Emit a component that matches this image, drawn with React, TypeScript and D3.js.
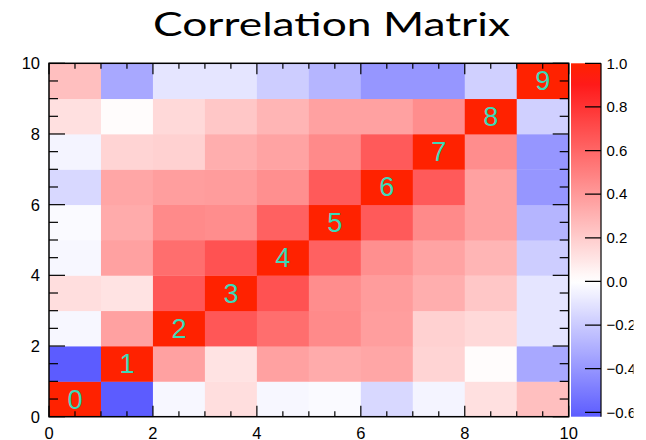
import React from "react";
import * as d3 from "d3";

// Variable indices shown on the diagonal
const variables = ["0", "1", "2", "3", "4", "5", "6", "7", "8", "9"];

// Correlation coefficients, one row per variable (row index = y bin, column = x bin)
const row0 = [1.0, -0.62, -0.03, 0.13, -0.03, -0.02, -0.15, -0.04, 0.12, 0.25];
const row1 = [-0.62, 1.0, 0.37, 0.11, 0.37, 0.33, 0.35, 0.17, 0.01, -0.33];
const row2 = [-0.03, 0.37, 1.0, 0.66, 0.57, 0.46, 0.38, 0.18, 0.15, -0.1];
const row3 = [0.13, 0.11, 0.66, 1.0, 0.68, 0.45, 0.39, 0.32, 0.22, -0.1];
const row4 = [-0.03, 0.37, 0.57, 0.68, 1.0, 0.62, 0.44, 0.36, 0.29, -0.19];
const row5 = [-0.02, 0.33, 0.46, 0.45, 0.62, 1.0, 0.65, 0.46, 0.37, -0.28];
const row6 = [-0.15, 0.35, 0.38, 0.39, 0.44, 0.65, 1.0, 0.65, 0.37, -0.4];
const row7 = [-0.04, 0.17, 0.18, 0.32, 0.36, 0.46, 0.65, 1.0, 0.45, -0.4];
const row8 = [0.12, 0.01, 0.15, 0.22, 0.29, 0.37, 0.37, 0.45, 1.0, -0.18];
const row9 = [0.25, -0.33, -0.1, -0.1, -0.19, -0.28, -0.4, -0.4, -0.18, 1.0];
const correlation = [row0, row1, row2, row3, row4, row5, row6, row7, row8, row9];

// Axis ticks
const axisTicks = d3.range(0, 10.001, 0.5);
const axisLabels = [0, 2, 4, 6, 8, 10];
const zTicks = [-0.6, -0.4, -0.2, 0.0, 0.2, 0.4, 0.6, 0.8, 1.0];

const W = 646;
const H = 440;
const plot = { left: 49, right: 568.7, top: 63.3, bottom: 416.7 };
const bar = { left: 571, right: 601 };
const labelClipRight = 633.5;

const zMin = d3.min(correlation.flat()) as number;
const zMax = 1.0;

const x = d3.scaleLinear().domain([0, 10]).range([plot.left, plot.right]);
const y = d3.scaleLinear().domain([0, 10]).range([plot.bottom, plot.top]);
const z = d3.scaleLinear().domain([zMin, zMax]).range([plot.bottom, plot.top]);

const color = d3
  .scaleLinear<string>()
  .domain([zMin, 0, 0.9, 1.0])
  .range(["#5c5cff", "#ffffff", "#ff1a1a", "#ff2200"])
  .interpolate(d3.interpolateRgb)
  .clamp(true);

const tickFont = "'Liberation Sans', Arial, Helvetica, sans-serif";
const fmt = d3.format(".1f");

export default function App() {
  const cells: React.ReactNode[] = [];
  correlation.forEach((row, j) => {
    row.forEach((v, i) => {
      const x0 = x(i);
      const x1 = x(i + 1);
      const y0 = y(j + 1);
      const y1 = y(j);
      cells.push(
        <rect
          key={`c${i}-${j}`}
          x={x0}
          y={y0}
          width={x1 - x0 + 0.4}
          height={y1 - y0 + 0.4}
          fill={color(v)}
        />
      );
    });
  });

  const gradStops = d3.range(0, 1.0001, 0.02).map((t) => {
    const v = zMin + t * (zMax - zMin);
    return <stop key={t} offset={`${t * 100}%`} stopColor={color(v)} />;
  });

  return (
    <svg
      width={W}
      height={H}
      style={{ position: "absolute", left: 0, top: 0, background: "#fff" }}
    >
      <defs>
        <linearGradient id="zbar" x1="0" y1="1" x2="0" y2="0">
          {gradStops}
        </linearGradient>
        <clipPath id="zlabels">
          <rect x={0} y={0} width={labelClipRight} height={H} />
        </clipPath>
      </defs>

      <text
        x={331.5}
        y={36}
        textAnchor="middle"
        fontFamily="Lato, 'Open Sans', sans-serif"
        fontSize={32}
        textLength={357}
        lengthAdjust="spacingAndGlyphs"
        fill="#000"
      >
        Correlation Matrix
      </text>

      {cells}

      {variables.map((name, i) => (
        <text
          key={`lab${i}`}
          x={(x(i) + x(i + 1)) / 2}
          y={(y(i) + y(i + 1)) / 2 + 9.5}
          textAnchor="middle"
          fontFamily={tickFont}
          fontSize={27}
          fill="#3dd9b8"
        >
          {name}
        </text>
      ))}

      {/* frame */}
      <rect
        x={plot.left}
        y={plot.top}
        width={plot.right - plot.left}
        height={plot.bottom - plot.top}
        fill="none"
        stroke="#000"
        strokeWidth={1.5}
      />

      {/* x ticks, bottom and top */}
      {axisTicks.map((t) => {
        const major = Math.abs(t % 2) < 1e-9;
        const len = major ? 11 : 5.5;
        return (
          <g key={`xt${t}`} stroke="#000" strokeWidth={1.2}>
            <line x1={x(t)} x2={x(t)} y1={plot.bottom} y2={plot.bottom - len} />
            <line x1={x(t)} x2={x(t)} y1={plot.top} y2={plot.top + len} />
          </g>
        );
      })}

      {/* y ticks, left and right */}
      {axisTicks.map((t) => {
        const major = Math.abs(t % 2) < 1e-9;
        const len = major ? 16 : 9;
        return (
          <g key={`yt${t}`} stroke="#000" strokeWidth={1.2}>
            <line x1={plot.left} x2={plot.left + len} y1={y(t)} y2={y(t)} />
            <line x1={plot.right} x2={plot.right - len} y1={y(t)} y2={y(t)} />
          </g>
        );
      })}

      {axisLabels.map((t) => (
        <text
          key={`xl${t}`}
          x={x(t)}
          y={438.5}
          textAnchor="middle"
          fontFamily={tickFont}
          fontSize={16.5}
          fill="#000"
        >
          {t}
        </text>
      ))}
      {axisLabels.map((t) => (
        <text
          key={`yl${t}`}
          x={40}
          y={y(t) + 6}
          textAnchor="end"
          fontFamily={tickFont}
          fontSize={16.5}
          fill="#000"
        >
          {t}
        </text>
      ))}

      {/* colour scale */}
      <rect
        x={bar.left}
        y={plot.top}
        width={bar.right - bar.left}
        height={plot.bottom - plot.top}
        fill="url(#zbar)"
      />
      <line
        x1={bar.right}
        x2={bar.right}
        y1={plot.top}
        y2={plot.bottom}
        stroke="#000"
        strokeWidth={1.2}
      />
      <g clipPath="url(#zlabels)">
        {zTicks.map((t) => (
          <g key={`zt${t}`}>
            <line
              x1={bar.right}
              x2={bar.right - 16}
              y1={z(t)}
              y2={z(t)}
              stroke="#000"
              strokeWidth={1.2}
            />
            <text
              x={606.5}
              y={z(t) + 5.3}
              fontFamily={tickFont}
              fontSize={15}
              fill="#000"
            >
              {fmt(t)}
            </text>
          </g>
        ))}
      </g>
    </svg>
  );
}
